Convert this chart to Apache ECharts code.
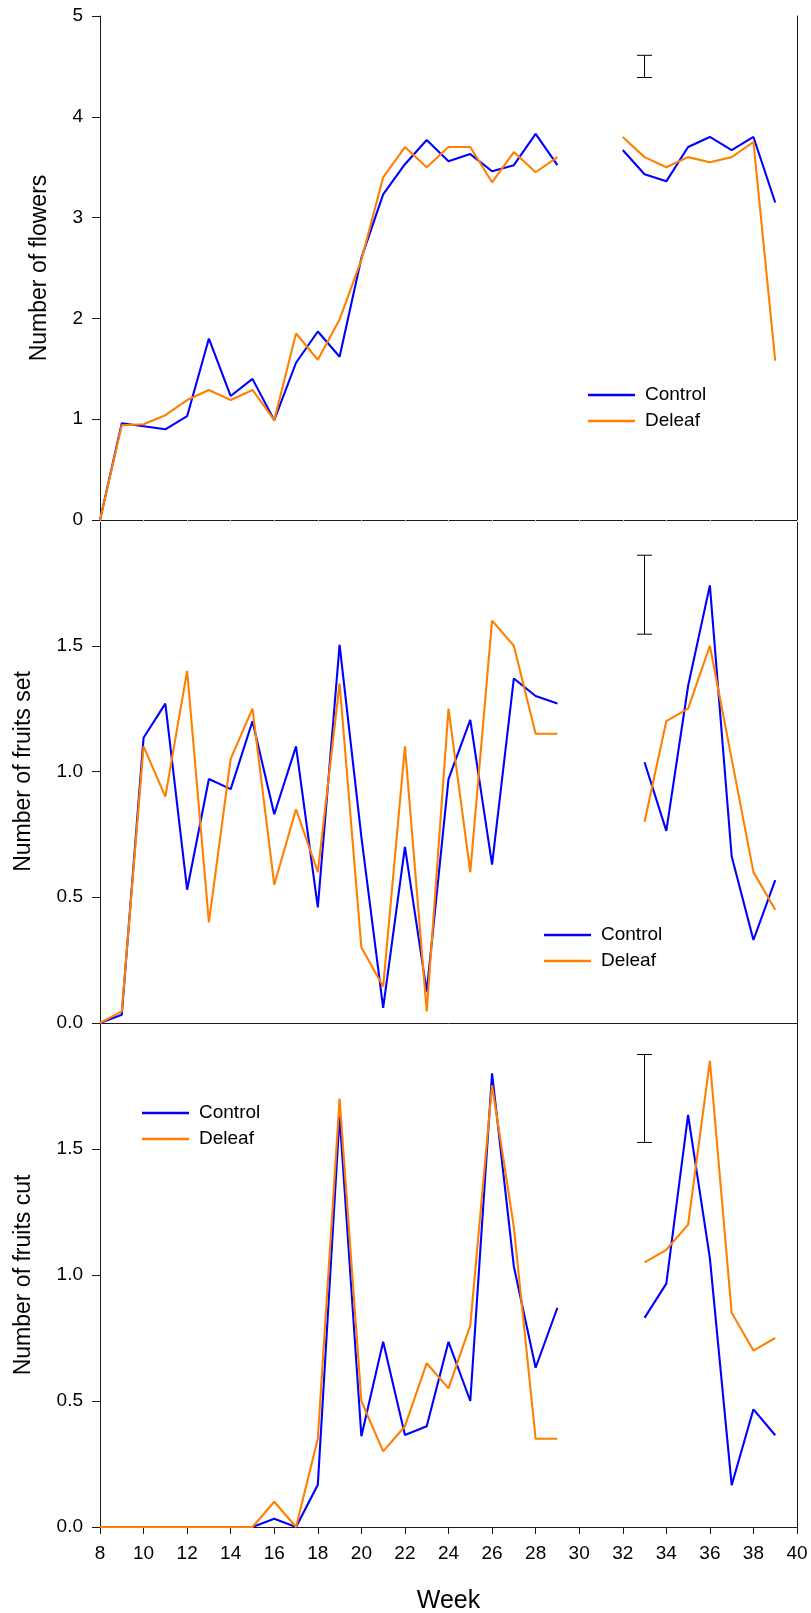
<!DOCTYPE html>
<html>
<head>
<meta charset="utf-8">
<script src="https://cdn.jsdelivr.net/npm/echarts@6/dist/echarts.min.js"></script>
<style>
  html, body { margin: 0; padding: 0; background: #fff; }
  #chart { width: 811px; height: 1613px; }
</style>
</head>
<body>
<div id="chart"></div>
<script>
// weeks 8..39, null = no sample that week
const weeks = [8, 9, 10, 11, 12, 13, 14, 15, 16, 17, 18, 19, 20, 21, 22, 23,
  24, 25, 26, 27, 28, 29, 30, 31, 32, 33, 34, 35, 36, 37, 38, 39];

const flowersControl = [0, 0.96, 0.93, 0.90, 1.03, 1.80, 1.23, 1.40, 0.99, 1.56, 1.87, 1.62, 2.60, 3.23, 3.53, 3.77,
  3.56, 3.63, 3.46, 3.52, 3.83, 3.52, null, null, 3.67, 3.43, 3.36, 3.70, 3.80, 3.67, 3.80, 3.15];
const flowersDeleaf = [0, 0.94, 0.95, 1.04, 1.19, 1.29, 1.19, 1.29, 0.99, 1.85, 1.59, 1.99, 2.58, 3.40, 3.70, 3.50,
  3.70, 3.70, 3.35, 3.65, 3.45, 3.60, null, null, 3.80, 3.60, 3.50, 3.60, 3.55, 3.60, 3.75, 1.58];

const setControl = [0, 0.033, 1.134, 1.27, 0.53, 0.97, 0.93, 1.20, 0.83, 1.10, 0.46, 1.504, 0.74, 0.06, 0.70, 0.125,
  0.97, 1.205, 0.63, 1.37, 1.30, 1.27, null, null, null, 1.037, 0.764, 1.34, 1.74, 0.663, 0.33, 0.568];
const setDeleaf = [0, 0.046, 1.10, 0.90, 1.40, 0.40, 1.05, 1.25, 0.55, 0.85, 0.60, 1.35, 0.30, 0.145, 1.10, 0.046,
  1.25, 0.60, 1.60, 1.50, 1.15, 1.15, null, null, null, 0.80, 1.20, 1.25, 1.50, 1.05, 0.60, 0.45];

const cutControl = [0, 0, 0, 0, 0, 0, 0, 0, 0.033, 0, 0.168, 1.63, 0.36, 0.735, 0.365, 0.40,
  0.735, 0.50, 1.80, 1.034, 0.632, 0.87, null, null, null, 0.83, 0.966, 1.635, 1.067, 0.166, 0.467, 0.364];
const cutDeleaf = [0, 0, 0, 0, 0, 0, 0, 0, 0.10, 0, 0.35, 1.70, 0.50, 0.30, 0.40, 0.65,
  0.55, 0.80, 1.753, 1.19, 0.35, 0.35, null, null, null, 1.05, 1.10, 1.20, 1.85, 0.85, 0.70, 0.75];

// error bars: [week, low, high]
const errFlowers = [[33, 4.39, 4.61]];
const errSet = [[33, 1.546, 1.86]];
const errCut = [[33, 1.526, 1.875]];

const yNames = ['Number of flowers', 'Number of fruits set', 'Number of fruits cut'];
const xTicks = { min: 8, max: 40, interval: 2 };

const FONT = '"Liberation Sans", Arial, sans-serif';
const BLUE = '#0000ff';
const ORANGE = '#ff8000';
const DARK = '#1a1a1a';

function pairs(vals) {
  return weeks.map(function (w, i) { return [w, vals[i] == null ? '-' : vals[i]]; });
}

function errRender(params, api) {
  const lo = api.coord([api.value(0), api.value(1)]);
  const hi = api.coord([api.value(0), api.value(2)]);
  const w = 7.5;
  const st = { stroke: '#000', lineWidth: 1 };
  return {
    type: 'group',
    children: [
      { type: 'line', shape: { x1: lo[0], y1: lo[1], x2: hi[0], y2: hi[1] }, style: st },
      { type: 'line', shape: { x1: lo[0] - w, y1: lo[1], x2: lo[0] + w, y2: lo[1] }, style: st },
      { type: 'line', shape: { x1: hi[0] - w, y1: hi[1], x2: hi[0] + w, y2: hi[1] }, style: st }
    ]
  };
}

const grids = [
  { left: 100, top: 16, width: 697, height: 504, outerBoundsMode: 'none' },
  { left: 100, top: 520, width: 697, height: 503, outerBoundsMode: 'none' },
  { left: 100, top: 1023, width: 697, height: 504, outerBoundsMode: 'none' }
];

const xAxes = [
  {
    type: 'value', gridIndex: 0, min: xTicks.min, max: xTicks.max, interval: xTicks.interval,
    axisLine: { lineStyle: { color: '#a8a8a8', width: 1 } },
    axisTick: { show: true, length: 2, lineStyle: { color: '#c8c8c8' } },
    axisLabel: { show: false }, splitLine: { show: false }
  },
  {
    type: 'value', gridIndex: 1, min: xTicks.min, max: xTicks.max, interval: xTicks.interval,
    axisLine: { lineStyle: { color: DARK, width: 1 } },
    axisTick: { show: false }, axisLabel: { show: false }, splitLine: { show: false }
  },
  {
    type: 'value', gridIndex: 2, min: xTicks.min, max: xTicks.max, interval: xTicks.interval,
    axisLine: { lineStyle: { color: DARK, width: 1 } },
    axisTick: { show: true, length: 7, lineStyle: { color: DARK } },
    axisLabel: { fontSize: 19, color: '#000', margin: 17, fontFamily: FONT },
    splitLine: { show: false },
    name: 'Week', nameLocation: 'middle', nameGap: 62,
    nameTextStyle: { fontSize: 25, color: '#000', fontFamily: FONT }
  },
  // top frame line of first panel
  {
    type: 'value', gridIndex: 0, position: 'top', min: xTicks.min, max: xTicks.max,
    axisLine: { lineStyle: { color: DARK, width: 1 } },
    axisTick: { show: false }, axisLabel: { show: false }, splitLine: { show: false }
  }
];

const yRanges = [
  { min: 0, max: 5, interval: 1, dec: 0, gap: 49 },
  { min: 0, max: 2, interval: 0.5, dec: 1, gap: 65 },
  { min: 0, max: 2, interval: 0.5, dec: 1, gap: 65 }
];

const yAxes = [];
yRanges.forEach(function (r, i) {
  yAxes.push({
    type: 'value', gridIndex: i, min: r.min, max: r.max, interval: r.interval,
    axisLine: { show: true, lineStyle: { color: DARK, width: 1 } },
    axisTick: { show: true, length: 8, lineStyle: { color: DARK } },
    axisLabel: {
      fontSize: 19, color: '#000', margin: 17, fontFamily: FONT,
      showMaxLabel: i === 0,
      formatter: function (v) { return v.toFixed(r.dec); }
    },
    splitLine: { show: false },
    name: yNames[i], nameLocation: 'middle', nameGap: r.gap,
    nameTextStyle: { fontSize: 23, color: '#000', fontFamily: FONT }
  });
});
// right frame lines
yRanges.forEach(function (r, i) {
  yAxes.push({
    type: 'value', gridIndex: i, position: 'right', min: r.min, max: r.max,
    axisLine: { show: true, lineStyle: { color: DARK, width: 1 } },
    axisTick: { show: false }, axisLabel: { show: false }, splitLine: { show: false }
  });
});

const panelData = [
  [flowersControl, flowersDeleaf, errFlowers],
  [setControl, setDeleaf, errSet],
  [cutControl, cutDeleaf, errCut]
];

const series = [];
panelData.forEach(function (pd, i) {
  series.push({
    name: 'Control', type: 'line', xAxisIndex: i, yAxisIndex: i,
    data: pairs(pd[0]), showSymbol: false, symbol: 'none', connectNulls: false,
    lineStyle: { color: BLUE, width: 2.1 }, itemStyle: { color: BLUE }, z: 2, animation: false
  });
  series.push({
    name: 'Deleaf', type: 'line', xAxisIndex: i, yAxisIndex: i,
    data: pairs(pd[1]), showSymbol: false, symbol: 'none', connectNulls: false,
    lineStyle: { color: ORANGE, width: 2.1 }, itemStyle: { color: ORANGE }, z: 3, animation: false
  });
  series.push({
    name: 'err' + i, type: 'custom', xAxisIndex: i, yAxisIndex: i,
    data: pd[2], renderItem: errRender, encode: { x: 0, y: [1, 2] }, z: 4, animation: false
  });
});

function legendAt(left, top) {
  return {
    orient: 'vertical', left: left, top: top, padding: 0,
    data: ['Control', 'Deleaf'], icon: 'rect', itemWidth: 47, itemHeight: 2.5, itemGap: 6,
    selectedMode: false,
    textStyle: { fontSize: 19, lineHeight: 20, color: '#000', fontFamily: FONT, padding: [0, 0, 0, 5] }
  };
}

const chart = echarts.init(document.getElementById('chart'), null, { renderer: 'canvas' });
chart.setOption({
  animation: false,
  backgroundColor: '#fff',
  textStyle: { fontFamily: FONT },
  grid: grids,
  xAxis: xAxes,
  yAxis: yAxes,
  legend: [legendAt(588, 385), legendAt(544, 925), legendAt(142, 1103)],
  series: series
});
</script>
</body>
</html>
